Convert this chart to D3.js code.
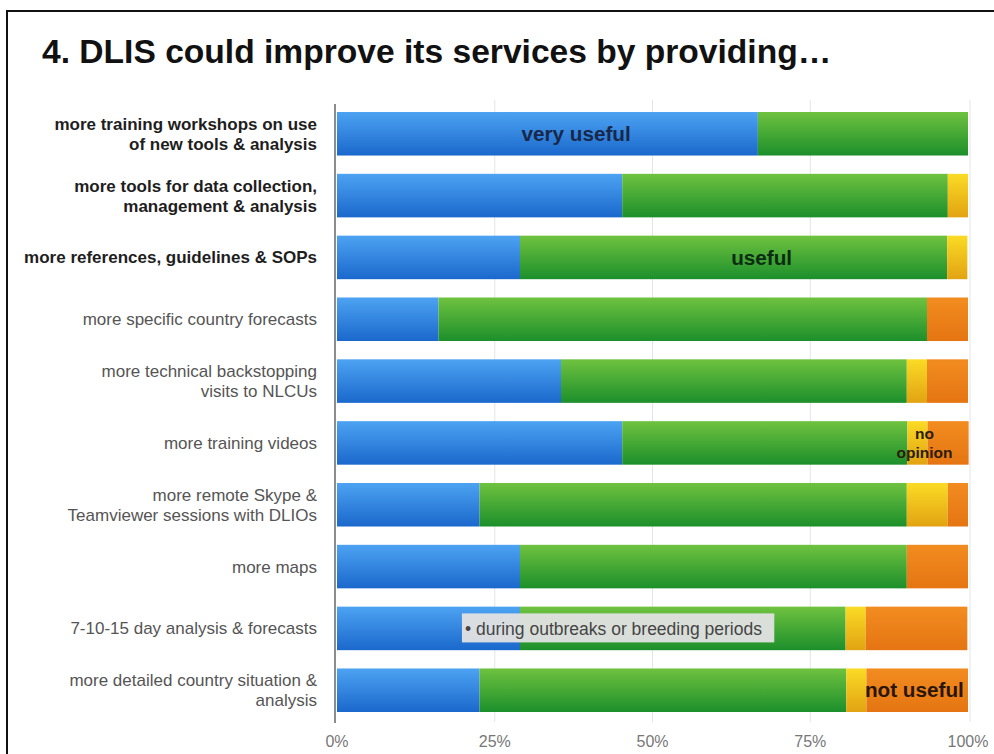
<!DOCTYPE html>
<html>
<head>
<meta charset="utf-8">
<script src="https://cdn.jsdelivr.net/npm/d3@7"></script>
<style>
  body { margin: 0; background: #fff; }
  svg { display: block; font-family: "Liberation Sans", Arial, sans-serif; }
</style>
</head>
<body>
<div id="chart"></div>
<script>
// survey answers, share of respondents (%)
const categories = [
  "more training workshops on use of new tools & analysis",
  "more tools for data collection, management & analysis",
  "more references, guidelines & SOPs",
  "more specific country forecasts",
  "more technical backstopping visits to NLCUs",
  "more training videos",
  "more remote Skype & Teamviewer sessions with DLIOs",
  "more maps",
  "7-10-15 day analysis & forecasts",
  "more detailed country situation & analysis"
];
const labelLines = [
  ["more training workshops on use", "of new tools & analysis"],
  ["more tools for data collection,", "management & analysis"],
  ["more references, guidelines & SOPs"],
  ["more specific country forecasts"],
  ["more technical backstopping", "visits to NLCUs"],
  ["more training videos"],
  ["more remote Skype &", "Teamviewer sessions with DLIOs"],
  ["more maps"],
  ["7-10-15 day analysis & forecasts"],
  ["more detailed country situation &", "analysis"]
];
const boldRows = [0, 1, 2];

const veryUseful = [66.7, 45.2, 29.0, 16.1, 35.5, 45.2, 22.6, 29.0, 29.0, 22.6];
const useful     = [33.3, 51.6, 67.7, 77.4, 54.8, 45.2, 67.7, 61.3, 51.6, 58.1];
const noOpinion  = [0,    3.2,  3.2,  0,    3.2,  3.2,  6.5,  0,    3.2,  3.2];
const notUseful  = [0,    0,    0,    6.5,  6.5,  6.5,  3.2,  9.7,  16.1, 16.1];

const seriesKeys = ["veryUseful", "useful", "noOpinion", "notUseful"];
const ticks = [0, 25, 50, 75, 100];

// in-chart labels: [row, percent position, text lines]
const annotations = [
  { row: 0, at: 37.9, lines: ["very useful"], key: "veryUseful" },
  { row: 2, at: 67.3, lines: ["useful"], key: "useful" },
  { row: 5, at: 93.1, lines: ["no", "opinion"], key: "noOpinion" },
  { row: 9, at: 91.5, lines: ["not useful"], key: "notUseful" }
];
const note = { row: 8, from: 19.8, to: 69.3, text: "• during outbreaks or breeding periods" };

const width = 994, height = 754;

const svg = d3.select("#chart").append("svg")
  .attr("width", width)
  .attr("height", height);

const colors = {
  veryUseful: ["#4da3f2", "#1a68cc"],
  useful: ["#6fc23f", "#1c8f2b"],
  noOpinion: ["#fadb25", "#e2a312"],
  notUseful: ["#f28c20", "#e57512"]
};
const textColors = {
  veryUseful: "#18284a",
  useful: "#0c2c12",
  noOpinion: "#2a1c05",
  notUseful: "#2a1502"
};

let defs = svg.append("defs");
seriesKeys.forEach(k => {
  let g = defs.append("linearGradient")
    .attr("id", "grad-" + k)
    .attr("x1", 0).attr("y1", 0).attr("x2", 0).attr("y2", 1);
  g.append("stop").attr("offset", "0%").attr("stop-color", colors[k][0]);
  g.append("stop").attr("offset", "100%").attr("stop-color", colors[k][1]);
});

// frame
svg.append("rect")
  .attr("x", 7).attr("y", 11)
  .attr("width", 1000).attr("height", 800)
  .attr("fill", "none")
  .attr("stroke", "#111")
  .attr("stroke-width", 2);

// title
svg.append("text")
  .attr("x", 42).attr("y", 63)
  .attr("font-size", 33.6)
  .attr("font-weight", "bold")
  .attr("fill", "#111")
  .text("4. DLIS could improve its services by providing…");

let x = d3.scaleLinear().domain([0, 100]).range([337, 968]);
let y = d3.scaleBand()
  .domain(categories)
  .range([102.85, 721.15])
  .paddingInner(0.296)
  .paddingOuter(0.148);

// gridlines
svg.append("g").selectAll("line")
  .data(ticks.slice(1))
  .join("line")
  .attr("x1", d => x(d) + (d === 100 ? 2 : 0))
  .attr("x2", d => x(d) + (d === 100 ? 2 : 0))
  .attr("y1", 100)
  .attr("y2", 722)
  .attr("stroke", "#e2e4e8")
  .attr("stroke-width", 1);

let table = categories.map((c, i) => ({
  category: c,
  veryUseful: veryUseful[i],
  useful: useful[i],
  noOpinion: noOpinion[i],
  notUseful: notUseful[i]
}));

let stacked = d3.stack().keys(seriesKeys)(table);

svg.append("g").selectAll("g")
  .data(stacked)
  .join("g")
  .attr("fill", d => `url(#grad-${d.key})`)
  .selectAll("rect")
  .data(d => d)
  .join("rect")
  .attr("x", d => x(d[0]))
  .attr("width", d => Math.max(0, x(d[1]) - x(d[0])))
  .attr("y", d => y(d.data.category))
  .attr("height", y.bandwidth());

// axis line
svg.append("line")
  .attr("x1", 335).attr("x2", 335)
  .attr("y1", 104).attr("y2", 723)
  .attr("stroke", "#666")
  .attr("stroke-width", 1.5);

// tick labels
svg.append("g").selectAll("text")
  .data(ticks)
  .join("text")
  .attr("x", d => x(d))
  .attr("y", 747)
  .attr("text-anchor", "middle")
  .attr("font-size", 16)
  .attr("fill", "#777")
  .text(d => d + "%");

// category labels
let labels = svg.append("g").selectAll("text")
  .data(categories)
  .join("text")
  .attr("x", 317)
  .attr("text-anchor", "end")
  .attr("font-size", 17)
  .attr("font-weight", (d, i) => boldRows.includes(i) ? "bold" : "normal")
  .attr("fill", (d, i) => boldRows.includes(i) ? "#1e1e1e" : "#555");

labels.each(function (d, i) {
  let lines = labelLines[i];
  let cy = y(d) + y.bandwidth() / 2;
  let top = cy - (lines.length - 1) * 10;
  d3.select(this).selectAll("tspan")
    .data(lines)
    .join("tspan")
    .attr("x", 317)
    .attr("y", (l, j) => top + j * 20)
    .attr("dy", "0.35em")
    .text(l => l);
});

// note box over the 7-10-15 day row
let noteY = y(categories[note.row]) + y.bandwidth() / 2;
svg.append("rect")
  .attr("x", x(note.from))
  .attr("y", noteY - 15)
  .attr("width", x(note.to) - x(note.from))
  .attr("height", 29)
  .attr("fill", "#e1e1e1")
  .attr("opacity", 0.96);
svg.append("text")
  .attr("x", x(note.from) + 3)
  .attr("y", noteY)
  .attr("dy", "0.35em")
  .attr("font-size", 17.5)
  .attr("fill", "#444")
  .text(note.text);

// in-bar labels
annotations.forEach(a => {
  let cy = y(categories[a.row]) + y.bandwidth() / 2;
  let multi = a.lines.length > 1;
  let t = svg.append("text")
    .attr("text-anchor", "middle")
    .attr("font-size", multi ? 15.5 : 20.7)
    .attr("font-weight", "bold")
    .attr("fill", textColors[a.key]);
  t.selectAll("tspan")
    .data(a.lines)
    .join("tspan")
    .attr("x", x(a.at))
    .attr("y", (l, j) => cy + (j - (a.lines.length - 1) / 2) * 19)
    .attr("dy", "0.35em")
    .text(l => l);
});
</script>
</body>
</html>
